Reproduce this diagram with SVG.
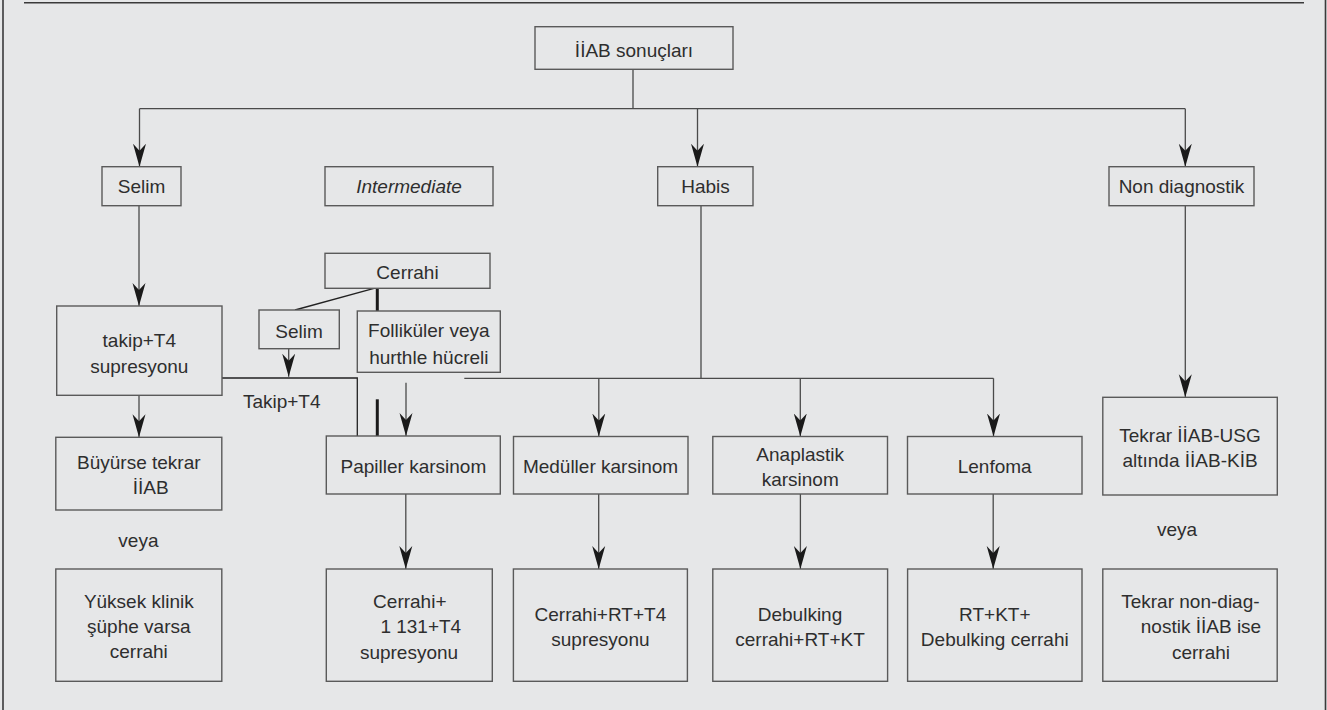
<svg xmlns="http://www.w3.org/2000/svg" width="1327" height="710" viewBox="0 0 1327 710">
<defs>
<style>
.bg{fill:#e6e7e8}
.box{fill:#e6e7e8;stroke:#5a5a5a;stroke-width:1.4}
.frame{stroke:#3a3a3a;stroke-width:1.6;fill:none}
.c{fill:none;stroke:#4a4a4a;stroke-width:1.3}
.cd{fill:none;stroke:#222;stroke-width:1.3}
.thick{fill:none;stroke:#1a1a1a;stroke-width:3}
text{font-family:"Liberation Sans",Arial,sans-serif;font-size:19px;fill:#2e2e2e;text-anchor:middle}
.it{font-style:italic}
</style>
<marker id="ah" markerUnits="userSpaceOnUse" viewBox="-23 -7 24 14" refX="0" refY="0" markerWidth="24" markerHeight="14" orient="auto">
<path d="M0,0 L-23,-6.5 L-16,0 L-23,6.5 Z" fill="#1a1a1a"/>
</marker>
</defs>
<rect class="bg" x="0" y="0" width="1327" height="710"/>
<g id="frame">
<line class="frame" x1="3" y1="0" x2="3" y2="710"/>
<line class="frame" x1="24" y1="2.7" x2="1304" y2="2.7"/>
<line class="frame" x1="1325.5" y1="0" x2="1325.5" y2="710"/>
</g>
<g id="connectors">
<path class="c" d="M633,69.3 V108.7 M139.5,108.7 H1185.3"/>
<path class="c" d="M139.5,108.7 V166.7" marker-end="url(#ah)"/>
<path class="c" d="M697.5,108.7 V166.7" marker-end="url(#ah)"/>
<path class="c" d="M1185.3,108.7 V166.7" marker-end="url(#ah)"/>
<path class="c" d="M139,205.7 V306" marker-end="url(#ah)"/>
<path class="c" d="M139,395.3 V437.3" marker-end="url(#ah)"/>
<path class="c" d="M701,205.7 V378.3 M464.3,378.3 H993.5"/>
<path class="c" d="M598.8,378.3 V436.5" marker-end="url(#ah)"/>
<path class="c" d="M800.3,378.3 V436.5" marker-end="url(#ah)"/>
<path class="c" d="M993.5,378.3 V436.5" marker-end="url(#ah)"/>
<path class="c" d="M1185.3,205.7 V397.3" marker-end="url(#ah)"/>
<path class="thick" d="M377.3,288.3 V311"/>
<path class="cd" d="M374,288.3 L295,310"/>
<path class="c" d="M288.7,348.7 V376.7" marker-end="url(#ah)"/>
<path class="cd" d="M222,378 H357.3 V436"/>
<path class="thick" d="M377.3,399.3 V436"/>
<path class="c" d="M406,382.7 V436" marker-end="url(#ah)"/>
<path class="c" d="M405.8,494 V569" marker-end="url(#ah)"/>
<path class="c" d="M598.7,494 V569" marker-end="url(#ah)"/>
<path class="c" d="M800.4,494 V569" marker-end="url(#ah)"/>
<path class="c" d="M993.2,494 V569" marker-end="url(#ah)"/>
</g>
<g id="n_root"><rect class="box" x="535" y="26.7" width="198" height="42.6"/><text x="634" y="57">İİAB sonuçları</text></g>
<g id="n_selim"><rect class="box" x="102" y="166.7" width="79" height="39"/><text x="141.5" y="193">Selim</text></g>
<g id="n_intermediate"><rect class="box" x="325" y="166.7" width="168" height="39"/><text class="it" x="409" y="193">Intermediate</text></g>
<g id="n_habis"><rect class="box" x="657.7" y="166.7" width="95.3" height="39"/><text x="705.5" y="193">Habis</text></g>
<g id="n_nondiag"><rect class="box" x="1109" y="166.7" width="145" height="39"/><text x="1181.5" y="193">Non diagnostik</text></g>
<g id="n_takip"><rect class="box" x="56.7" y="306" width="165.3" height="89.3"/><text x="139.3" y="346.5">takip+T4</text><text x="139.3" y="372.5">supresyonu</text></g>
<g id="n_cerrahi"><rect class="box" x="325" y="253.3" width="165" height="35"/><text x="407.5" y="279">Cerrahi</text></g>
<g id="n_selim2"><rect class="box" x="259" y="310" width="80.3" height="38.7"/><text x="299" y="337.5">Selim</text></g>
<g id="n_follikuler"><rect class="box" x="357.3" y="311" width="143" height="61.3"/><text x="428.8" y="337">Folliküler veya</text><text x="428.8" y="364">hurthle hücreli</text></g>
<g id="t_takip"><text x="281.7" y="407.5">Takip+T4</text></g>
<g id="n_buyurse"><rect class="box" x="55.8" y="437.3" width="166" height="72.7"/><text x="138.8" y="469">Büyürse tekrar</text><text x="150.7" y="494">İİAB</text></g>
<g id="t_veya1"><text x="138.4" y="547">veya</text></g>
<g id="n_yuksek"><rect class="box" x="55.8" y="569" width="166" height="112.3"/><text x="138.8" y="607.5">Yüksek klinik</text><text x="138.8" y="633">şüphe varsa</text><text x="138.8" y="658">cerrahi</text></g>
<g id="n_papiller"><rect class="box" x="326.3" y="436" width="174" height="58"/><text x="413.4" y="473">Papiller karsinom</text></g>
<g id="n_meduller"><rect class="box" x="513.5" y="436.5" width="174.5" height="57.5"/><text x="600.5" y="473">Medüller karsinom</text></g>
<g id="n_anaplastik"><rect class="box" x="712.8" y="436.5" width="174.7" height="57.5"/><text x="800.2" y="460.5">Anaplastik</text><text x="800.2" y="486">karsinom</text></g>
<g id="n_lenfoma"><rect class="box" x="907.5" y="436.5" width="174.5" height="57.5"/><text x="994.7" y="473">Lenfoma</text></g>
<g id="n_tekrar1"><rect class="box" x="1102.8" y="397.3" width="174.5" height="97.7"/><text x="1190" y="441.5">Tekrar İİAB-USG</text><text x="1190" y="466.5">altında İİAB-KİB</text></g>
<g id="t_veya2"><text x="1177" y="536">veya</text></g>
<g id="n_cerrahi_i131"><rect class="box" x="326.3" y="569" width="166" height="112.3"/><text x="409.8" y="607.8">Cerrahi+</text><text x="420.8" y="633.2">1 131+T4</text><text x="409" y="658.5">supresyonu</text></g>
<g id="n_cerrahi_rt"><rect class="box" x="513.4" y="569" width="174" height="112.3"/><text x="600.4" y="620.5">Cerrahi+RT+T4</text><text x="600.4" y="645.8">supresyonu</text></g>
<g id="n_debulking"><rect class="box" x="712.8" y="569" width="174.8" height="112.3"/><text x="800" y="620.5">Debulking</text><text x="800" y="645.8">cerrahi+RT+KT</text></g>
<g id="n_rtkt"><rect class="box" x="907.6" y="569" width="174.4" height="112.3"/><text x="994.8" y="620.5">RT+KT+</text><text x="994.8" y="645.8">Debulking cerrahi</text></g>
<g id="n_tekrar2"><rect class="box" x="1102.8" y="569" width="174.4" height="112.3"/><text x="1190.4" y="607.8">Tekrar non-diag-</text><text x="1201" y="633.2">nostik İİAB ise</text><text x="1201" y="658.5">cerrahi</text></g>
</svg>
